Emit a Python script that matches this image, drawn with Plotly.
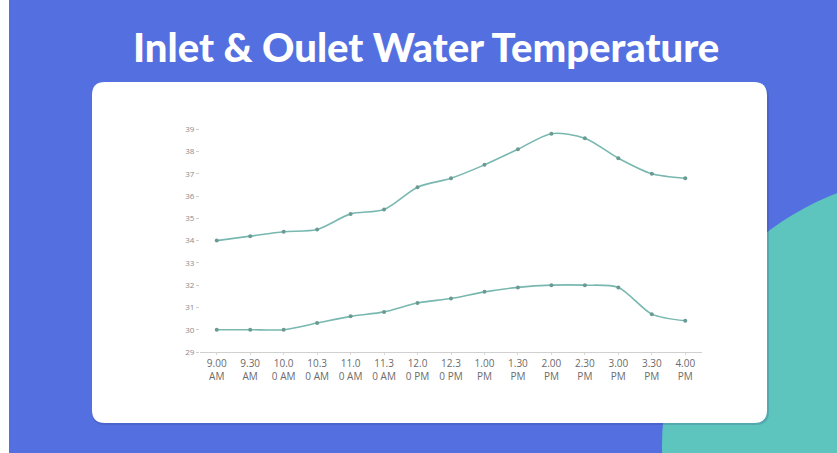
import plotly.graph_objects as go

# Time slots (labels wrap onto two lines as in the dashboard card)
times = ["9.00<br>AM", "9.30<br>AM", "10.0<br>0 AM", "10.3<br>0 AM", "11.0<br>0 AM",
         "11.3<br>0 AM", "12.0<br>0 PM", "12.3<br>0 PM", "1.00<br>PM", "1.30<br>PM",
         "2.00<br>PM", "2.30<br>PM", "3.00<br>PM", "3.30<br>PM", "4.00<br>PM"]
outlet_temp = [34.0, 34.2, 34.4, 34.5, 35.2, 35.4, 36.4, 36.8, 37.4, 38.1,
               38.8, 38.6, 37.7, 37.0, 36.8]
inlet_temp = [30.0, 30.0, 30.0, 30.3, 30.6, 30.8, 31.2, 31.4, 31.7, 31.9,
              32.0, 32.0, 31.9, 30.7, 30.4]
y_ticks = list(range(29, 40))

W, H = 837, 453
L, R, T, B = 200, 135, 127, 101
PW, PH = W - L - R, H - T - B


def px(x):
    return (x - L) / PW


def py(y):
    return (H - B - y) / PH


def rounded_rect(x0, y0, x1, y1, r):
    pts = [
        f"M{px(x0 + r)},{py(y0)}",
        f"L{px(x1 - r)},{py(y0)}",
        f"Q{px(x1)},{py(y0)} {px(x1)},{py(y0 + r)}",
        f"L{px(x1)},{py(y1 - r)}",
        f"Q{px(x1)},{py(y1)} {px(x1 - r)},{py(y1)}",
        f"L{px(x0 + r)},{py(y1)}",
        f"Q{px(x0)},{py(y1)} {px(x0)},{py(y1 - r)}",
        f"L{px(x0)},{py(y0 + r)}",
        f"Q{px(x0)},{py(y0)} {px(x0 + r)},{py(y0)}",
        "Z",
    ]
    return " ".join(pts)


BLUE = "#5470E0"
TEAL = "#5EC4BE"
LINE = "#78b8b0"
MARK = "#6a9a94"

fig = go.Figure()
for vals in (outlet_temp, inlet_temp):
    fig.add_trace(go.Scatter(
        x=times, y=vals, mode="lines+markers",
        line=dict(color=LINE, width=1.6, shape="spline", smoothing=0.8),
        marker=dict(color=MARK, size=4),
        showlegend=False, hoverinfo="x+y",
    ))

shapes = [
    # white strip on the far left
    dict(type="rect", xref="paper", yref="paper", x0=px(0), x1=px(9), y0=py(0), y1=py(H),
         fillcolor="white", line=dict(width=0), layer="below"),
    # teal circle in the lower-right corner
    dict(type="circle", xref="paper", yref="paper",
         x0=px(932 - 270), x1=px(932 + 270), y0=py(446 + 270), y1=py(446 - 270),
         fillcolor=TEAL, line=dict(width=0), layer="below"),
    # soft shadow under the card
    dict(type="path", xref="paper", yref="paper", path=rounded_rect(92, 84, 769, 425, 13),
         fillcolor="rgba(40,50,110,0.18)", line=dict(width=0), layer="below"),
    # white card
    dict(type="path", xref="paper", yref="paper", path=rounded_rect(92, 82, 767, 423, 13),
         fillcolor="white", line=dict(width=0), layer="below"),
]

fig.update_layout(
    width=W, height=H,
    margin=dict(l=L, r=R, t=T, b=B),
    paper_bgcolor=BLUE,
    plot_bgcolor="rgba(0,0,0,0)",
    shapes=shapes,
    font=dict(family="Open Sans, sans-serif"),
    annotations=[dict(
        text="Inlet & Oulet Water Temperature",
        xref="paper", yref="paper", x=px(426), y=py(47),
        xanchor="center", yanchor="middle", showarrow=False,
        font=dict(family="Lato", size=40, weight=900, color="white"),
    )],
)

fig.update_xaxes(
    type="category", range=[-0.5, 14.5],
    showgrid=False, zeroline=False,
    showline=True, linecolor="#d0d0d0", linewidth=1,
    ticks="outside", ticklen=2, tickcolor="#d8d8d8",
    tickfont=dict(size=10, color="#6b6b6b"),
    tickangle=0,
)
fig.update_yaxes(
    range=[29, 39.1], tickvals=y_ticks,
    showgrid=False, zeroline=False, showline=False,
    ticks="outside", ticklen=3, tickcolor="#d0d0d0",
    tickfont=dict(size=8, color="#8a8a8a"),
)

fig.write_html("out.html")
